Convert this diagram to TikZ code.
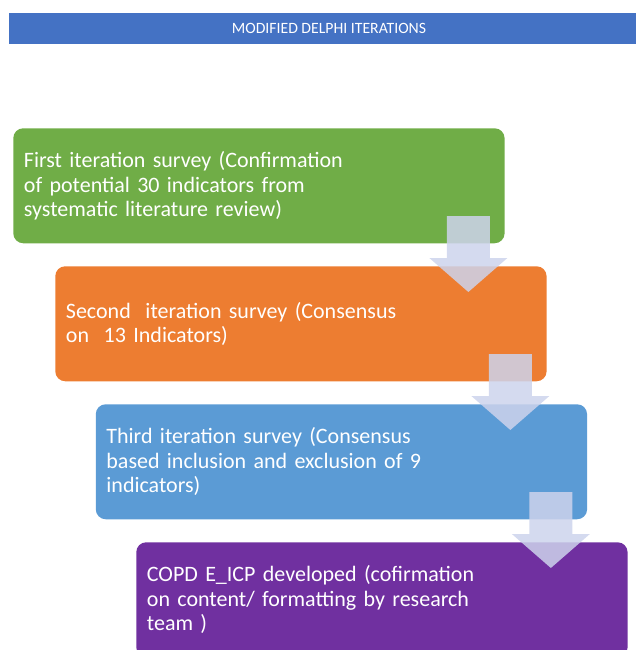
\documentclass[tikz,border=0pt]{standalone}
\usepackage{fontspec}
\setmainfont{Carlito}
\usepackage{xcolor}
\usepackage{tikz}
\usetikzlibrary{calc}

\definecolor{barblue}{HTML}{4472C4}
\definecolor{stepgreen}{HTML}{70AD47}
\definecolor{steporange}{HTML}{ED7D31}
\definecolor{stepblue}{HTML}{5B9BD5}
\definecolor{steppurple}{HTML}{7030A0}
\definecolor{arrowgrey}{HTML}{CDD3EC}

\tikzset{
  titlebar/.style={fill=barblue, text=white, minimum width=470.25pt, minimum height=23.25pt,
    inner sep=0pt, font=\fontsize{11.8}{13}\selectfont},
  stepbox/.style={anchor=north west, text=white, rounded corners=7.5pt, text width=352.5pt,
    inner xsep=8pt, minimum height=86.25pt, align=left, font=\fontsize{16.5}{18.4}\selectfont},
  flowarrow/.style={fill=arrowgrey, fill opacity=0.85},
}

\begin{document}
\begin{tikzpicture}[x=0.75pt,y=-0.75pt]
\useasboundingbox (0,0) rectangle (636,650);
%\draw[step=50,gray,very thin] (0,0) grid (636,650);
\node[titlebar] (title) at (322.5,28.5) {\hspace*{9.75pt}MODIFIED DELPHI ITERATIONS};

\node[stepbox, fill=stepgreen] (b1) at (13,128)
  {First iteration survey (Confirmation\\ of potential 30 indicators from\\ systematic literature review)};
\node[stepbox, fill=steporange] (b2) at (55,266)
  {Second\ \ iteration survey (Consensus\\ on\ \ 13 Indicators)};
\node[stepbox, fill=stepblue] (b3) at (95.5,404)
  {Third iteration survey (Consensus\\ based inclusion and exclusion of 9\\ indicators)};
\node[stepbox, fill=steppurple] (b4) at (136,542)
  {COPD E\_ICP developed (cofirmation\\ on content/ formatting by research\\ team )};

% arrows between the steps
\foreach \a/\b in {b1/b2,b2/b3,b3/b4}{
  \coordinate (ax) at ($(\a.south east)+(-36.5,0)$);
  \coordinate (ay) at ($(\b.north)+(0,26)$);
  \fill[flowarrow] (ax |- ay) -- ++(-39,-34) -- ++(17.5,0) -- ++(0,-42) -- ++(43,0)
    -- ++(0,42) -- ++(17.5,0) -- cycle;
}
\end{tikzpicture}
\end{document}
